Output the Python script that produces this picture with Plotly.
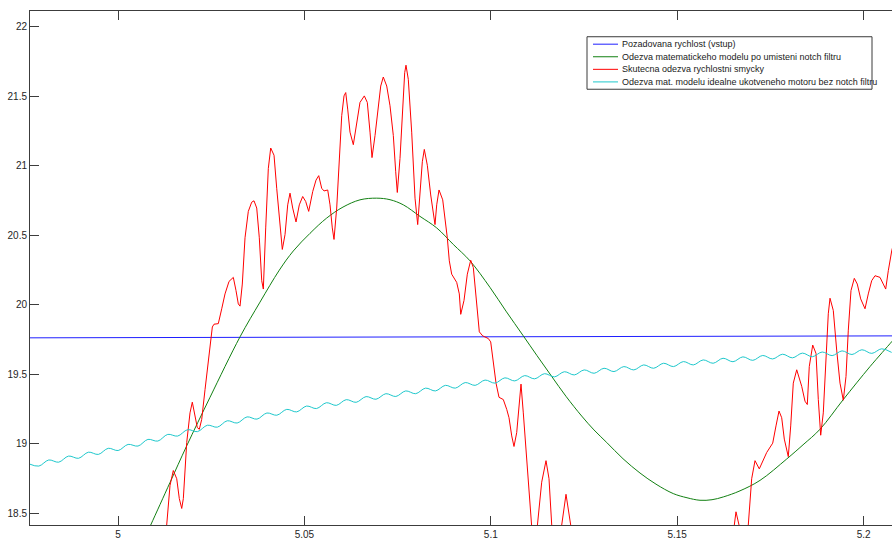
import numpy as np
import plotly.graph_objects as go

# ---------------- data ----------------
series_names = [
    "Pozadovana rychlost (vstup)",
    "Odezva matematickeho modelu po umisteni notch filtru",
    "Skutecna odezva rychlostni smycky",
    "Odezva mat. modelu idealne ukotveneho motoru bez notch filtru",
]
series_colors = ["#1f1fff", "#128012", "#ff0000", "#1ec8cc"]

x_tickvals = [5.0, 5.05, 5.1, 5.15, 5.2]
x_ticktext = ["5", "5.05", "5.1", "5.15", "5.2"]
y_tickvals = [18.5, 19.0, 19.5, 20.0, 20.5, 21.0, 21.5, 22.0]
y_ticktext = ["18.5", "19", "19.5", "20", "20.5", "21", "21.5", "22"]
x_range = [4.97639, 5.20762]
y_range = [18.415, 22.114]

# blue: requested speed (input)
blue_t = [4.9760, 5.0900, 5.2090]
blue_v = [19.762, 19.770, 19.776]

# green: model response with notch filter
green_t = [5.00590, 5.00877, 5.01395, 5.01843, 5.02468, 5.03273, 5.03809, 5.04327,
           5.04702, 5.05150, 5.05598, 5.06035, 5.06491, 5.06939, 5.07296, 5.07653,
           5.08101, 5.08549, 5.08994, 5.09442, 5.09978, 5.10408, 5.10872, 5.11239,
           5.11634, 5.12017, 5.12438, 5.12768, 5.13109, 5.13546, 5.14002, 5.14431,
           5.14895, 5.15263, 5.15612, 5.15934, 5.16237, 5.16685, 5.17221, 5.17937,
           5.18375, 5.18831, 5.19456, 5.20172, 5.20754, 5.20842]
green_v = [18.250, 18.415, 18.721, 18.985, 19.334, 19.769, 20.019, 20.249,
           20.387, 20.514, 20.624, 20.703, 20.755, 20.767, 20.756, 20.719,
           20.636, 20.553, 20.434, 20.316, 20.125, 19.954, 19.776, 19.634,
           19.484, 19.341, 19.199, 19.099, 19.009, 18.892, 18.789, 18.709,
           18.641, 18.611, 18.593, 18.597, 18.617, 18.661, 18.736, 18.890,
           18.992, 19.104, 19.318, 19.555, 19.734, 19.762]

# red: measured speed loop response
red_t = [5.01127, 5.01306, 5.01395, 5.01483, 5.01575, 5.01644, 5.01709, 5.01752,
         5.01843, 5.01931, 5.01993, 5.02065, 5.02127, 5.02181, 5.02245, 5.02334,
         5.02422, 5.02487, 5.02530, 5.02575, 5.02690, 5.02782, 5.02870, 5.02978,
         5.03093, 5.03165, 5.03227, 5.03273, 5.03334, 5.03407, 5.03495, 5.03586,
         5.03648, 5.03721, 5.03790, 5.03855, 5.03898, 5.03962, 5.04032, 5.04096,
         5.04185, 5.04257, 5.04364, 5.04407, 5.04480, 5.04552, 5.04614, 5.04686,
         5.04775, 5.04863, 5.04954, 5.05035, 5.05115, 5.05223, 5.05311, 5.05384,
         5.05464, 5.05526, 5.05625, 5.05687, 5.05748, 5.05794, 5.05866, 5.05928,
         5.06001, 5.06062, 5.06108, 5.06161, 5.06223, 5.06312, 5.06403, 5.06491,
         5.06607, 5.06687, 5.06760, 5.06813, 5.06894, 5.06982, 5.07047, 5.07116,
         5.07208, 5.07296, 5.07385, 5.07449, 5.07492, 5.07564, 5.07637, 5.07690,
         5.07725, 5.07787, 5.07878, 5.07967, 5.08039, 5.08101, 5.08163, 5.08216,
         5.08297, 5.08388, 5.08458, 5.08503, 5.08549, 5.08611, 5.08710, 5.08771,
         5.08833, 5.08887, 5.08951, 5.09085, 5.09155, 5.09193, 5.09281, 5.09370,
         5.09461, 5.09531, 5.09603, 5.09692, 5.09783, 5.09933, 5.09997, 5.10067,
         5.10140, 5.10220, 5.10335, 5.10427, 5.10488, 5.10561, 5.10622, 5.10695,
         5.10756, 5.10810, 5.10872, 5.10963, 5.11052, 5.11113, 5.11186, 5.11247,
         5.11365, 5.11481, 5.11561, 5.11634, 5.11749, 5.11902, 5.12017, 5.12143,
         5.12661, 5.13466, 5.14270, 5.15075, 5.15880, 5.16532, 5.16577, 5.16658,
         5.16765, 5.16907, 5.16998, 5.17087, 5.17202, 5.17401, 5.17562, 5.17650,
         5.17731, 5.17803, 5.17873, 5.17980, 5.18045, 5.18114, 5.18206, 5.18340,
         5.18428, 5.18490, 5.18543, 5.18635, 5.18723, 5.18785, 5.18849, 5.18919,
         5.18991, 5.19053, 5.19099, 5.19187, 5.19278, 5.19367, 5.19456, 5.19528,
         5.19590, 5.19662, 5.19751, 5.19831, 5.19922, 5.20038, 5.20126, 5.20217,
         5.20306, 5.20440, 5.20528, 5.20593, 5.20663, 5.20754, 5.20842]
red_v = [18.200, 18.415, 18.700, 18.807, 18.748, 18.605, 18.534, 18.605,
         19.009, 19.222, 19.299, 19.199, 19.116, 19.104, 19.175, 19.389,
         19.603, 19.746, 19.840, 19.860, 19.864, 19.971, 20.078, 20.168,
         20.197, 20.102, 20.006, 19.990, 20.149, 20.482, 20.672, 20.738,
         20.748, 20.696, 20.482, 20.173, 20.113, 20.553, 20.981, 21.128,
         21.076, 20.838, 20.553, 20.398, 20.505, 20.719, 20.803, 20.696,
         20.596, 20.719, 20.779, 20.743, 20.672, 20.815, 20.897, 20.929,
         20.838, 20.819, 20.826, 20.719, 20.553, 20.470, 20.696, 21.052,
         21.361, 21.503, 21.527, 21.408, 21.242, 21.152, 21.314, 21.456,
         21.503, 21.456, 21.242, 21.059, 21.218, 21.432, 21.574, 21.639,
         21.574, 21.432, 21.218, 20.957, 20.808, 21.052, 21.432, 21.670,
         21.724, 21.622, 21.242, 20.767, 20.577, 20.790, 21.029, 21.118,
         21.004, 20.790, 20.648, 20.577, 20.719, 20.826, 20.755, 20.624,
         20.482, 20.316, 20.220, 20.161, 20.078, 19.931, 20.031, 20.220,
         20.320, 20.268, 20.054, 19.805, 19.776, 19.757, 19.733, 19.579,
         19.436, 19.334, 19.318, 19.247, 19.187, 19.056, 18.980, 19.080,
         19.294, 19.429, 19.222, 18.866, 18.581, 18.344, 18.240, 18.415,
         18.723, 18.878, 18.748, 18.415, 18.200, 18.415, 18.636, 18.415,
         17.900, 17.600, 17.500, 17.600, 17.900, 18.415, 18.510, 18.415,
         18.300, 18.415, 18.748, 18.878, 18.819, 18.937, 19.004, 19.128,
         19.235, 19.187, 19.033, 18.907, 19.128, 19.436, 19.532, 19.413,
         19.306, 19.282, 19.555, 19.710, 19.650, 19.318, 19.061, 19.222,
         19.603, 19.935, 20.047, 19.959, 19.674, 19.436, 19.313, 19.484,
         19.817, 20.102, 20.190, 20.149, 20.042, 19.971, 20.078, 20.173,
         20.209, 20.197, 20.149, 20.113, 20.245, 20.387, 20.482]

# cyan: ideal model without notch filter (sampled at ripple peaks / troughs)
cyan_t = np.linspace(4.9761, 5.20752, 88)
cyan_v = [18.855, 18.839, 18.883, 18.867, 18.911, 18.895, 18.939, 18.923, 18.967, 18.951,
          18.995, 18.983, 19.031, 19.019, 19.067, 19.055, 19.101, 19.087, 19.133, 19.119,
          19.165, 19.149, 19.193, 19.177, 19.221, 19.205, 19.247, 19.229, 19.271, 19.253,
          19.295, 19.276, 19.317, 19.298, 19.339, 19.320, 19.360, 19.340, 19.380, 19.360,
          19.400, 19.380, 19.420, 19.400, 19.440, 19.420, 19.458, 19.436, 19.474, 19.452,
          19.490, 19.467, 19.504, 19.481, 19.518, 19.495, 19.531, 19.507, 19.543, 19.519,
          19.555, 19.531, 19.567, 19.543, 19.579, 19.555, 19.591, 19.567, 19.603, 19.579,
          19.615, 19.590, 19.625, 19.600, 19.635, 19.610, 19.644, 19.618, 19.652, 19.626,
          19.660, 19.634, 19.668, 19.642, 19.676, 19.650, 19.683, 19.657]

# ---------------- figure ----------------
W, H = 892, 540
ML, MR, MT, MB = 30, 0, 11, 10
PW, PH = W - ML - MR, H - MT - MB

fig = go.Figure()
traces = [
    (blue_t, blue_v, "linear"),
    (green_t, green_v, "spline"),
    (red_t, red_v, "linear"),
    (cyan_t, cyan_v, "spline"),
]
for (t, v, shape), name, col in zip(traces, series_names, series_colors):
    fig.add_trace(go.Scatter(x=t, y=v, mode="lines", name=name,
                             line=dict(color=col, width=1, shape=shape),
                             showlegend=False))

# custom compact legend (MATLAB style box)
def px_x(p):
    return (p - ML) / PW

def px_y(p):
    return (H - MB - p) / PH

leg_left, leg_right, leg_top, leg_bot = 587, 872, 37, 90
fig.add_shape(type="rect", xref="paper", yref="paper",
              x0=px_x(leg_left), x1=px_x(leg_right), y0=px_y(leg_bot), y1=px_y(leg_top),
              line=dict(color="#3a3a3a", width=1), fillcolor="white", layer="above")
for i, (name, col) in enumerate(zip(series_names, series_colors)):
    yy = 44.5 + 12.7 * i
    fig.add_shape(type="line", xref="paper", yref="paper",
                  x0=px_x(593), x1=px_x(618), y0=px_y(yy), y1=px_y(yy),
                  line=dict(color=col, width=1), layer="above")
    fig.add_annotation(x=px_x(620), y=px_y(yy), xref="paper", yref="paper",
                       text=name, showarrow=False, xanchor="left", yanchor="middle",
                       font=dict(family="Liberation Sans, Arial", size=9, color="#1a1a1a"))

axis_common = dict(showgrid=False, zeroline=False, showline=True, linecolor="#3c3c3c",
                   linewidth=1, ticks="inside", ticklen=9, tickcolor="#3c3c3c",
                   tickfont=dict(family="Liberation Sans, Arial", size=10, color="#262626"))
fig.update_xaxes(range=x_range, tickvals=x_tickvals, ticktext=x_ticktext,
                 mirror="ticks", **axis_common)
fig.update_yaxes(range=y_range, tickvals=y_tickvals, ticktext=y_ticktext,
                 mirror=False, **axis_common)
fig.update_layout(width=W, height=H, margin=dict(l=ML, r=MR, t=MT, b=MB),
                  paper_bgcolor="white", plot_bgcolor="white", showlegend=False)

fig.write_html("out.html", config={"displayModeBar": False})
